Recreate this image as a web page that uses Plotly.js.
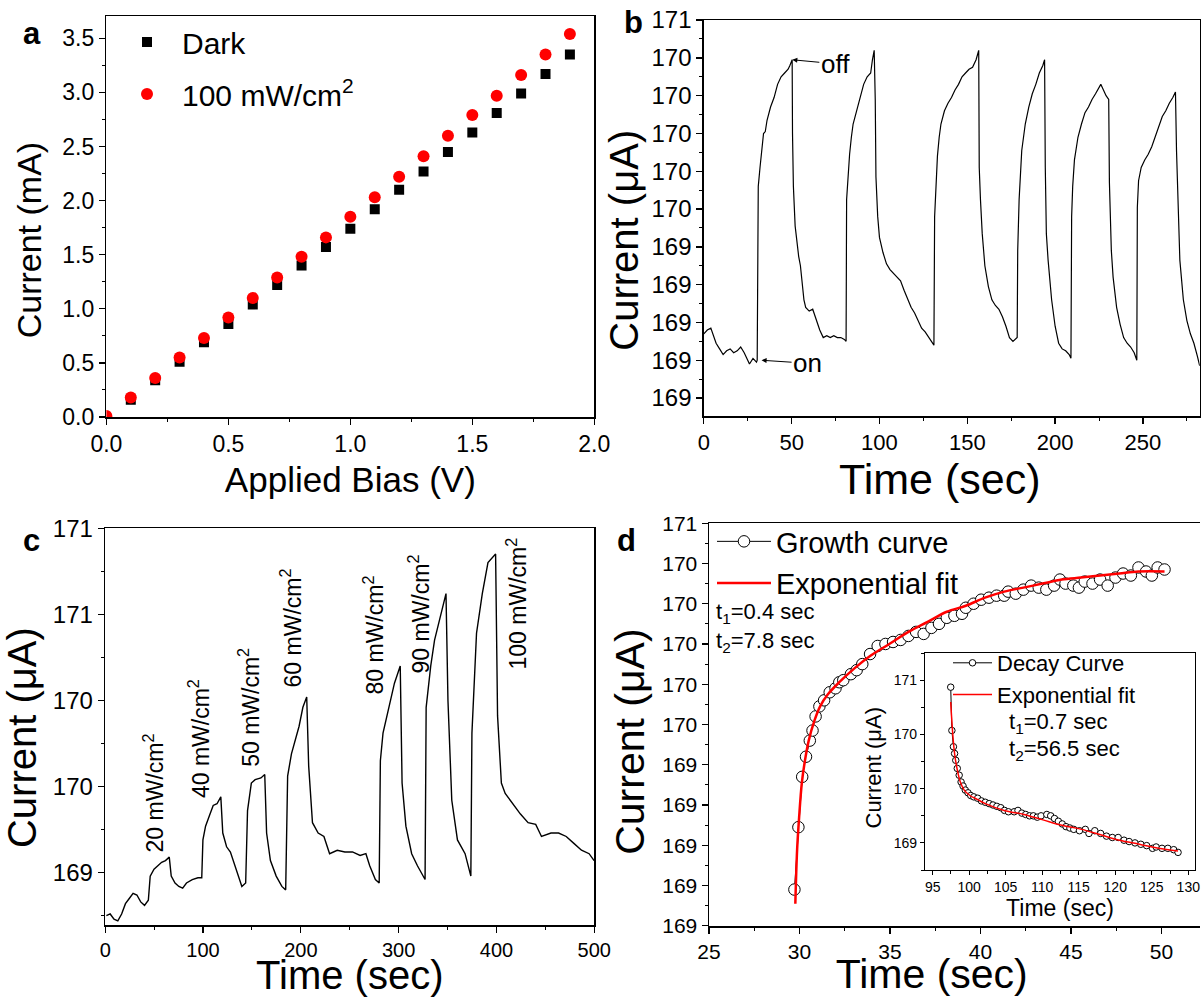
<!DOCTYPE html>
<html><head><meta charset="utf-8">
<script src="https://cdn.plot.ly/plotly-3.0.1.min.js"></script>
<style>html,body{margin:0;padding:0;background:#fff}#chart{width:1203px;height:997px}</style>
</head><body><div id="chart"></div>
<script>
// ---------- Panel a ----------
const aBiasDark = [0.1,0.2,0.3,0.4,0.5,0.6,0.7,0.8,0.9,1.0,1.1,1.2,1.3,1.4,1.5,1.6,1.7,1.8,1.9];
const aDark = [0.16,0.34,0.51,0.69,0.86,1.04,1.22,1.40,1.57,1.74,1.92,2.10,2.27,2.45,2.63,2.81,2.99,3.17,3.35];
const aBiasLight = [0.0,0.1,0.2,0.3,0.4,0.5,0.6,0.7,0.8,0.9,1.0,1.1,1.2,1.3,1.4,1.5,1.6,1.7,1.8,1.9];
const aLight = [0.01,0.18,0.36,0.55,0.73,0.92,1.10,1.29,1.48,1.66,1.85,2.03,2.22,2.41,2.60,2.79,2.97,3.16,3.35,3.54];

// ---------- Panel b ----------
const bTime = [0,2,4,5,7,9,11,13,15,17,19,21,23,25,26,28,30,30.4,
 30.6,31,32,33,34,35,36,38,40,42,44,46,47,48,49,50.3,
 50.5,51,52,53,54,55,56,57,58,60,62,64,66,68,70,72,74,76,78,80,81,
 81.3,82,83,84,85,87,89,91,93,95,96,97,
 97.6,98,99,100,102,104,106,108,110,112,114,116,118,120,122,124,126,128,130,131,
 131.4,132,133,134,135,137,139,141,143,145,147,149,151,153,155,156.5,
 156.8,157.5,158.5,160,162,164,166,168,170,172,174,176,177.5,178.4,
 178.7,179.5,181,183,185,187,189,191,193,194,
 194.4,195,196,197,198,200,202,204,206,208,209,
 209.4,210,211,213,215,217,219,221,223,225,226,227.5,229,230.5,
 230.9,232,233,235,237,239,241,243,245,246.5,
 246.8,247.5,249,251,253,255,257,259,261,263,265,267,268.5,
 269.1,270,271,273,275,277,279,281,282.3];
const bCurrent = [168.94,168.96,168.97,168.94,168.89,168.86,168.83,168.85,168.86,168.84,168.85,168.87,168.84,168.80,168.78,168.81,168.79,168.80,
 169.65,169.72,169.82,169.93,170.00,170.01,170.07,170.14,170.19,170.26,170.30,170.32,170.33,170.34,170.36,170.39,
 170.00,169.72,169.51,169.42,169.35,169.30,169.21,169.12,169.08,169.06,169.07,169.01,168.96,168.92,168.93,168.92,168.93,168.92,168.92,168.91,168.90,
 169.65,169.77,169.89,169.98,170.05,170.12,170.19,170.26,170.30,170.32,170.39,170.44,
 170.18,169.77,169.56,169.45,169.37,169.31,169.28,169.26,169.24,169.22,169.17,169.12,169.08,169.05,169.01,168.97,168.95,168.92,168.89,168.88,
 169.56,169.72,169.88,169.98,170.05,170.12,170.16,170.19,170.23,170.26,170.30,170.32,170.34,170.35,170.39,170.44,
 169.82,169.65,169.47,169.30,169.19,169.12,169.09,169.07,169.03,168.98,168.92,168.90,168.91,168.92,
 169.38,169.65,169.91,170.05,170.14,170.21,170.26,170.32,170.36,170.39,
 169.82,169.47,169.33,169.21,169.12,168.98,168.89,168.86,168.85,168.83,168.81,
 169.56,169.72,169.86,169.98,170.05,170.11,170.14,170.18,170.21,170.24,170.26,170.23,170.20,170.18,
 169.74,169.38,169.24,169.08,168.99,168.92,168.89,168.87,168.84,168.80,
 169.61,169.75,169.82,169.86,169.89,169.93,169.98,170.04,170.09,170.12,170.16,170.19,170.22,
 169.91,169.56,169.33,169.12,169.01,168.94,168.89,168.82,168.77];
const bTickVals = [168.6,168.8,169.0,169.2,169.4,169.6,169.8,170.0,170.2,170.4,170.6];
const bTickText = ['169','169','169','169','169','170','170','170','170','170','171'];

// ---------- Panel c ----------
const cTime = [1.2,5.1,9.0,12.9,16.8,20.7,24.6,28.5,32.4,36.3,40.2,44.1,46.0,49.9,53.8,57.7,61.6,65.5,67.5,71.4,75.3,79.2,83.1,89.0,94.8,98.7,
 99.9,102.6,106.5,110.4,114.3,118.2,120.2,124.1,128.0,131.9,135.8,139.7,143.6,
 145.5,149.4,153.3,159.2,163.1,165.0,168.9,174.8,180.6,184.5,
 186.5,190.4,194.3,198.2,202.1,206.0,208.0,211.9,217.7,223.6,229.4,237.2,245.0,252.8,260.6,266.5,270.4,276.2,280.1,
 281.3,284.0,289.9,295.7,301.6,303.5,307.4,313.3,319.2,327.0,
 328.1,332.8,336.7,342.6,348.4,350.4,354.3,360.1,367.9,373.8,
 374.9,379.6,385.5,391.3,397.2,399.1,401.1,405.0,408.9,416.7,424.5,432.3,440.1,446.0,455.7,463.5,471.3,479.1,486.9,494.7,499.8];
const cCurrent = [168.75,168.76,168.73,168.72,168.76,168.82,168.85,168.88,168.87,168.83,168.81,168.84,168.98,169.02,169.04,169.06,169.07,169.09,168.98,168.94,168.92,168.91,168.94,168.96,168.97,168.97,
 169.19,169.27,169.33,169.39,169.40,169.44,169.23,169.15,169.12,169.05,168.98,168.92,168.94,
 169.36,169.52,169.54,169.55,169.57,169.23,169.07,168.98,168.92,168.90,
 169.56,169.69,169.77,169.85,169.96,170.02,169.62,169.29,169.23,169.21,169.11,169.13,169.12,169.12,169.10,169.11,169.04,168.96,168.94,
 169.65,169.81,169.96,170.10,170.20,169.52,169.27,169.11,169.04,168.96,
 169.96,170.20,170.35,170.49,170.62,170.00,169.42,169.19,169.11,168.98,
 169.81,170.39,170.62,170.80,170.84,170.85,169.91,169.52,169.46,169.40,169.34,169.29,169.28,169.21,169.23,169.23,169.21,169.17,169.13,169.11,169.07];
const cTickVals = [169.0,169.5,170.0,170.5,171.0];
const cTickText = ['169','170','170','171','171'];
const cLabels = ['20 mW/cm<sup>2</sup>','40 mW/cm<sup>2</sup>','50 mW/cm<sup>2</sup>','60 mW/cm<sup>2</sup>','80 mW/cm<sup>2</sup>','90 mW/cm<sup>2</sup>','100 mW/cm<sup>2</sup>'];
const cLabelTime = [49.9,96.7,147.5,190.3,274.3,321,420.5];
const cLabelCurrent = [169.46,169.78,169.96,170.42,170.38,170.50,170.56];

// ---------- Panel d ----------
const dGrowthTime = [29.72,29.94,30.15,30.36,30.57,30.72,30.89,31.10,31.36,31.67,31.99,32.20,32.42,32.84,33.16,33.47,33.90,34.32,34.75,35.17,35.59,36.02,36.44,36.86,37.29,37.71,38.14,38.56,38.98,39.19,39.62,40.04,40.47,40.89,41.31,41.53,41.95,42.37,42.80,43.22,43.64,44.07,44.39,44.70,45.13,45.44,45.76,46.19,46.61,47.03,47.46,47.88,48.31,48.73,49.15,49.47,49.79,50.17];
const dGrowthCurrent = [168.78,169.09,169.34,169.44,169.52,169.57,169.64,169.69,169.72,169.76,169.78,169.81,169.82,169.85,169.87,169.90,169.95,169.99,170.00,170.01,170.02,170.04,170.06,170.05,170.08,170.10,170.13,170.14,170.15,170.18,170.20,170.22,170.23,170.24,170.24,170.26,170.25,170.27,170.29,170.28,170.27,170.29,170.32,170.30,170.29,170.28,170.31,170.30,170.32,170.29,170.33,170.35,170.34,170.38,170.36,170.34,170.38,170.37];
const dFitTime = [29.77,29.87,29.98,30.13,30.30,30.51,30.83,31.14,31.57,32.20,33.05,33.90,34.96,36.02,37.08,38.14,39.19,40.25,41.31,42.37,43.43,44.49,45.55,46.61,47.67,48.73,50.17];
const dFitCurrent = [168.71,168.98,169.14,169.31,169.42,169.52,169.62,169.69,169.75,169.81,169.88,169.94,170.00,170.06,170.11,170.16,170.19,170.23,170.26,170.28,170.30,170.32,170.33,170.34,170.35,170.36,170.36];
const dTickVals = [168.6,168.8,169.0,169.2,169.4,169.6,169.8,170.0,170.2,170.4,170.6];
const dTickText = ['169','169','169','169','169','170','170','170','170','170','171'];
const dXTickVals = [25,30,35,40,45,50];

// ---------- Inset (decay) ----------
const eDecayTime = [97.47,97.63,97.84,98.0,98.16,98.37,98.63,98.89,99.16,99.47,99.84,100.21,100.63,101.16,101.68,102.21,102.74,103.26,103.79,104.32,104.84,105.37,106.16,106.68,107.21,107.74,108.26,108.79,109.32,109.84,110.63,111.16,111.68,112.21,112.74,113.26,113.79,114.32,115.1,115.9,116.4,117.2,118.0,118.8,119.6,120.4,121.2,121.9,122.7,123.5,124.3,125.1,125.6,126.4,127.2,128.0,128.6];
const eDecayCurrent = [170.55,170.23,170.11,170.06,170.01,169.95,169.90,169.85,169.82,169.79,169.77,169.75,169.74,169.73,169.71,169.70,169.69,169.68,169.67,169.66,169.64,169.63,169.63,169.64,169.62,169.61,169.60,169.60,169.59,169.60,169.61,169.60,169.58,169.56,169.54,169.52,169.51,169.50,169.49,169.50,169.47,169.49,169.47,169.45,169.44,169.44,169.42,169.41,169.40,169.39,169.38,169.36,169.37,169.36,169.36,169.35,169.33];
const eFitTime = [97.47,97.74,98.0,98.37,98.79,99.32,100.1,101.16,102.2,104.8,107.5,110.1,112.7,115.4,118.0,120.6,123.3,125.9,128.6];
const eFitCurrent = [170.44,170.21,170.06,169.94,169.85,169.79,169.75,169.72,169.69,169.64,169.61,169.57,169.53,169.50,169.46,169.42,169.39,169.36,169.34];
const eTickVals = [169.4,169.8,170.2,170.6];
const eTickText = ['169','170','170','171'];

// ---------- Build ----------
const FONT = 'Arial, "Liberation Sans", sans-serif';
const W = 1203, H = 997;
const px = v => v / W;
const py = v => 1 - v / H;
// trailing no-break spaces (kept by a zero-width end mark) shift a centred title
const pad = n => '\u00a0'.repeat(n) + '\u200b';

function axis(extra) {
  return Object.assign({
    showline: true, linewidth: 1.5, linecolor: '#000', mirror: true,
    ticks: 'outside', ticklen: 6, tickwidth: 1.3, tickcolor: '#000',
    showgrid: false, zeroline: false, automargin: false, fixedrange: true
  }, extra);
}
function minor(dt, t0) {
  const m = {ticks: 'outside', ticklen: 3, tickwidth: 1, tickcolor: '#000', showgrid: false, tickmode: 'linear', dtick: dt};
  if (t0 !== undefined) m.tick0 = t0;
  return m;
}
const F = s => ({family: FONT, size: s, color: '#000'});

const traces = [
  {x: aBiasDark, y: aDark, name: 'Dark', type: 'scatter', mode: 'markers', xaxis: 'x', yaxis: 'y',
   marker: {symbol: 'square', size: 10, color: '#000'}, legend: 'legend', legendgroup: 'a1'},
  {x: aBiasLight, y: aLight, name: '100 mW/cm<sup>2</sup>', type: 'scatter', mode: 'markers', xaxis: 'x', yaxis: 'y',
   marker: {symbol: 'circle', size: 12, color: '#ff0000'}, legend: 'legend', legendgroup: 'a2'},
  {x: bTime, y: bCurrent, type: 'scatter', mode: 'lines', xaxis: 'x2', yaxis: 'y2', showlegend: false,
   line: {color: '#000', width: 1.2}},
  {x: cTime, y: cCurrent, type: 'scatter', mode: 'lines', xaxis: 'x3', yaxis: 'y3', showlegend: false,
   line: {color: '#000', width: 1.4}},
  {x: dGrowthTime, y: dGrowthCurrent, name: 'Growth curve', type: 'scatter', mode: 'lines+markers', xaxis: 'x4', yaxis: 'y4',
   line: {color: '#000', width: 1}, marker: {symbol: 'circle', size: 11.5, color: '#fff', line: {color: '#000', width: 1}},
   legend: 'legend2', legendgroup: 'd1'},
  {x: dFitTime, y: dFitCurrent, name: 'Exponential fit', type: 'scatter', mode: 'lines', xaxis: 'x4', yaxis: 'y4',
   line: {color: '#ff0000', width: 2.5, shape: 'spline'}, legend: 'legend2', legendgroup: 'd2'},
  {x: eDecayTime, y: eDecayCurrent, name: 'Decay Curve', type: 'scatter', mode: 'lines+markers', xaxis: 'x5', yaxis: 'y5',
   line: {color: '#000', width: 1}, marker: {symbol: 'circle', size: 6.5, color: '#fff', line: {color: '#000', width: 1}},
   legend: 'legend3', legendgroup: 'e1'},
  {x: eFitTime, y: eFitCurrent, name: 'Exponential fit', type: 'scatter', mode: 'lines', xaxis: 'x5', yaxis: 'y5',
   line: {color: '#ff0000', width: 1.5, shape: 'spline'}, legend: 'legend3', legendgroup: 'e2'}
];

const layout = {
  width: W, height: H, margin: {l: 0, r: 0, t: 0, b: 0},
  paper_bgcolor: '#fff', plot_bgcolor: 'rgba(0,0,0,0)',
  font: {family: FONT, color: '#000'},
  xaxis: axis({domain: [px(106.4), px(594.3)], anchor: 'y', range: [0, 2], tickmode: 'linear', tick0: 0, dtick: 0.5, tickformat: '.1f',
    minor: minor(0.25), tickfont: F(23),
    title: {text: 'Applied Bias (V)', font: F(35), standoff: 11}}),
  yaxis: axis({domain: [py(417), py(16)], anchor: 'x', range: [0, 3.706], tickmode: 'linear', tick0: 0, dtick: 0.5, tickformat: '.1f',
    minor: minor(0.25), tickfont: F(23),
    title: {text: 'Current (mA)' + pad(5), font: F(34), standoff: 10}}),
  xaxis2: axis({domain: [px(703.8), px(1199.7)], anchor: 'y2', range: [0, 282.3], tickmode: 'linear', tick0: 0, dtick: 50,
    minor: minor(25), tickfont: F(22),
    title: {text: 'Time (sec)' + pad(2), font: F(43), standoff: 7}}),
  yaxis2: axis({domain: [py(416), py(20)], anchor: 'x2', range: [168.505, 170.6005], tickmode: 'array', tickvals: bTickVals, ticktext: bTickText,
    minor: minor(0.2, 168.5), tickfont: F(24),
    title: {text: 'Current (\u03bcA)' + pad(4), font: F(40), standoff: 0}}),
  xaxis3: axis({domain: [px(105.2), px(594.3)], anchor: 'y3', range: [0, 500], tickmode: 'linear', tick0: 0, dtick: 100,
    minor: minor(50), tickfont: F(20),
    title: {text: 'Time (sec)', font: F(40), standoff: 20}}),
  yaxis3: axis({domain: [py(925), py(528)], anchor: 'x3', range: [168.696, 171.001], tickmode: 'array', tickvals: cTickVals, ticktext: cTickText,
    minor: minor(0.5, 168.75), tickfont: F(24),
    title: {text: 'Current (\u03bcA)' + pad(2), font: F(40), standoff: 12}}),
  xaxis4: axis({domain: [px(709), px(1200)], anchor: 'y4', range: [25, 52.13], tickmode: 'array', tickvals: dXTickVals,
    minor: minor(2.5, 25), tickfont: F(21),
    title: {text: 'Time (sec)' + pad(4), font: F(41), standoff: 12}}),
  yaxis4: axis({domain: [py(926), py(523)], anchor: 'x4', range: [168.599, 170.601], tickmode: 'array', tickvals: dTickVals, ticktext: dTickText,
    mirror: false, minor: minor(0.2, 168.7), tickfont: F(21),
    title: {text: 'Current (\u03bcA)' + pad(3), font: F(41), standoff: 5}}),
  xaxis5: axis({domain: [px(925), px(1195)], anchor: 'y5', range: [93.95, 130.92], tickmode: 'linear', tick0: 95, dtick: 5,
    linewidth: 1.2, ticklen: 4, tickwidth: 1, minor: minor(2.5, 95), tickfont: F(14),
    title: {text: 'Time (sec)', font: F(23), standoff: 0}}),
  yaxis5: axis({domain: [py(870), py(653.3)], anchor: 'x5', range: [169.2, 170.8], tickmode: 'array', tickvals: eTickVals, ticktext: eTickText,
    linewidth: 1.2, ticklen: 4, tickwidth: 1, minor: minor(0.2, 169.2), tickfont: F(14),
    title: {text: 'Current (\u03bcA)' + pad(2), font: F(22), standoff: 6}}),
  legend: {x: px(112), y: py(16), xanchor: 'left', yanchor: 'top', bgcolor: 'rgba(0,0,0,0)', borderwidth: 0,
    font: F(30), tracegroupgap: 10, itemwidth: 60},
  legend2: {x: px(712), y: py(516), xanchor: 'left', yanchor: 'top', bgcolor: 'rgba(0,0,0,0)', borderwidth: 0,
    font: F(29), tracegroupgap: 1, itemwidth: 54},
  legend3: {x: px(948), y: py(642), xanchor: 'left', yanchor: 'top', bgcolor: 'rgba(0,0,0,0)', borderwidth: 0,
    font: F(22), tracegroupgap: 0, itemwidth: 39},
  annotations: []
};

// panel letters
[['a', 31.6, 33], ['b', 633, 23], ['c', 31.6, 540], ['d', 626, 540]].forEach(([t, x, y]) => {
  layout.annotations.push({text: '<b>' + t + '</b>', xref: 'paper', yref: 'paper', x: px(x), y: py(y),
    xanchor: 'center', yanchor: 'middle', showarrow: false, font: F(31)});
});

// on/off arrows in panel b
layout.annotations.push({text: 'off', xref: 'x2', yref: 'y2', x: 50.4, y: 170.39, ax: 43, ay: 4,
  showarrow: true, arrowhead: 2, arrowsize: 1, arrowwidth: 1, arrowcolor: '#000', standoff: 0, font: F(26)});
layout.annotations.push({text: 'on', xref: 'x2', yref: 'y2', x: 32.9, y: 168.80, ax: 46, ay: 3,
  showarrow: true, arrowhead: 2, arrowsize: 1, arrowwidth: 1, arrowcolor: '#000', standoff: 0, font: F(26)});

// rotated intensity labels in panel c
cLabels.forEach((t, i) => {
  layout.annotations.push({text: t, xref: 'x3', yref: 'y3', x: cLabelTime[i], y: cLabelCurrent[i],
    textangle: -90, showarrow: false, xanchor: 'center', yanchor: 'middle', font: F(23)});
});

// time constants
[['t<sub>1</sub>=0.4 sec', 714, 613], ['t<sub>2</sub>=7.8 sec', 714, 642],
 ['t<sub>1</sub>=0.7 sec', 1007, 723], ['t<sub>2</sub>=56.5 sec', 1007, 750]].forEach(([t, x, y]) => {
  layout.annotations.push({text: t, xref: 'paper', yref: 'paper', x: px(x), y: py(y),
    xanchor: 'left', yanchor: 'middle', showarrow: false, font: F(22)});
});

Plotly.newPlot('chart', traces, layout, {staticPlot: true, displayModeBar: false});
</script></body></html>
